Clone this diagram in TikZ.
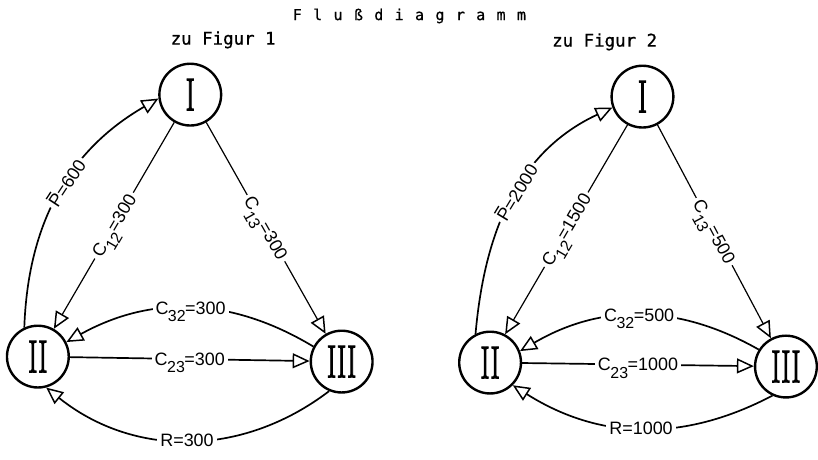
\documentclass[tikz,border=0pt]{standalone}
\usepackage{fontspec}
\setsansfont{Liberation Sans}
\newfontfamily\monofont[FakeBold=0.8]{DejaVu Sans Mono}
\newfontfamily\titlefont[LetterSpace=16,FakeBold=0.8]{DejaVu Sans Mono}
\newfontfamily\roemfont[FakeBold=2.5]{Latin Modern Roman}
\usetikzlibrary{arrows.meta}
\newcommand\roem[1]{\scalebox{0.62}[1]{#1}}
\newcommand\idx[1]{\kern-0.5pt\raisebox{-7.5pt}[0pt][0pt]{\fontsize{16}{16}\selectfont #1}\kern-0.5pt}
\newcommand\Pquer{\rlap{\kern1.5pt\raisebox{14.5pt}{\rule{8.5pt}{1.3pt}}}P}
\begin{document}
\begin{tikzpicture}[x=1pt,y=-1pt,
  zustand/.style={circle,draw,line width=2.4pt,minimum size=62pt,inner sep=0pt,font=\roemfont\fontsize{46}{46}\selectfont},
  fluss/.style={line width=1.7pt,-{Triangle[open,length=17pt,width=15pt,line width=1.5pt]}},
  duenn/.style={line width=1.2pt},
  wert/.style={fill=white,inner sep=3pt,font=\sffamily\fontsize{18}{18}\selectfont}]
\fill[white] (0,0) rectangle (818,453);
\node[font=\titlefont\fontsize{15}{15}\selectfont] (titel) at (411,16) {F l u ß d i a g r a m m};
\node[font=\monofont\fontsize{17.5}{17.5}\selectfont] (fig1) at (224,40) {zu Figur 1};
\node[font=\monofont\fontsize{17.5}{17.5}\selectfont] (fig2) at (607,42) {zu Figur 2};
% Figur 1
\node[zustand] (I1) at (191,95) {\roem{I}};
\node[zustand] (II1) at (38,358) {\roem{II}};
\node[zustand] (III1) at (343,363) {\roem{III}};
\draw[fluss] (II1.115) to[out=88,in=210] node[wert,sloped,pos=0.55] {\Pquer=600} (I1.187);
\draw[fluss,duenn] (I1.240) -- node[wert,sloped] {C\idx{12}=300} (II1.60);
\draw[fluss,duenn] (I1.300) -- node[wert,sloped] {C\idx{13}=300} (III1.120);
\draw[fluss] (III1.152) to[bend right=30] node[wert] {C\idx{32}=300} (II1.27);
\draw[fluss] (II1) -- node[wert] {C\idx{23}=300} (III1);
\draw[fluss] (III1.247) to[bend left=38] node[wert] {R=300} (II1.285);
% Figur 2
\node[zustand] (I2) at (645,97) {\roem{I}};
\node[zustand] (II2) at (492,364) {\roem{II}};
\node[zustand] (III2) at (789,368) {\roem{III}};
\draw[fluss] (II2.117) to[out=85,in=205] node[wert,sloped,pos=0.53] {\Pquer=2000} (I2.200);
\draw[fluss,duenn] (I2.242) -- node[wert,sloped] {C\idx{12}=1500} (II2.62);
\draw[fluss,duenn] (I2.298) -- node[wert,sloped] {C\idx{13}=500} (III2.118);
\draw[fluss] (III2.148) to[bend right=30] node[wert] {C\idx{32}=500} (II2.21);
\draw[fluss] (II2) -- node[wert] {C\idx{23}=1000} (III2);
\draw[fluss] (III2.245) to[bend left=30] node[wert] {R=1000} (II2.315);
\end{tikzpicture}
\end{document}
